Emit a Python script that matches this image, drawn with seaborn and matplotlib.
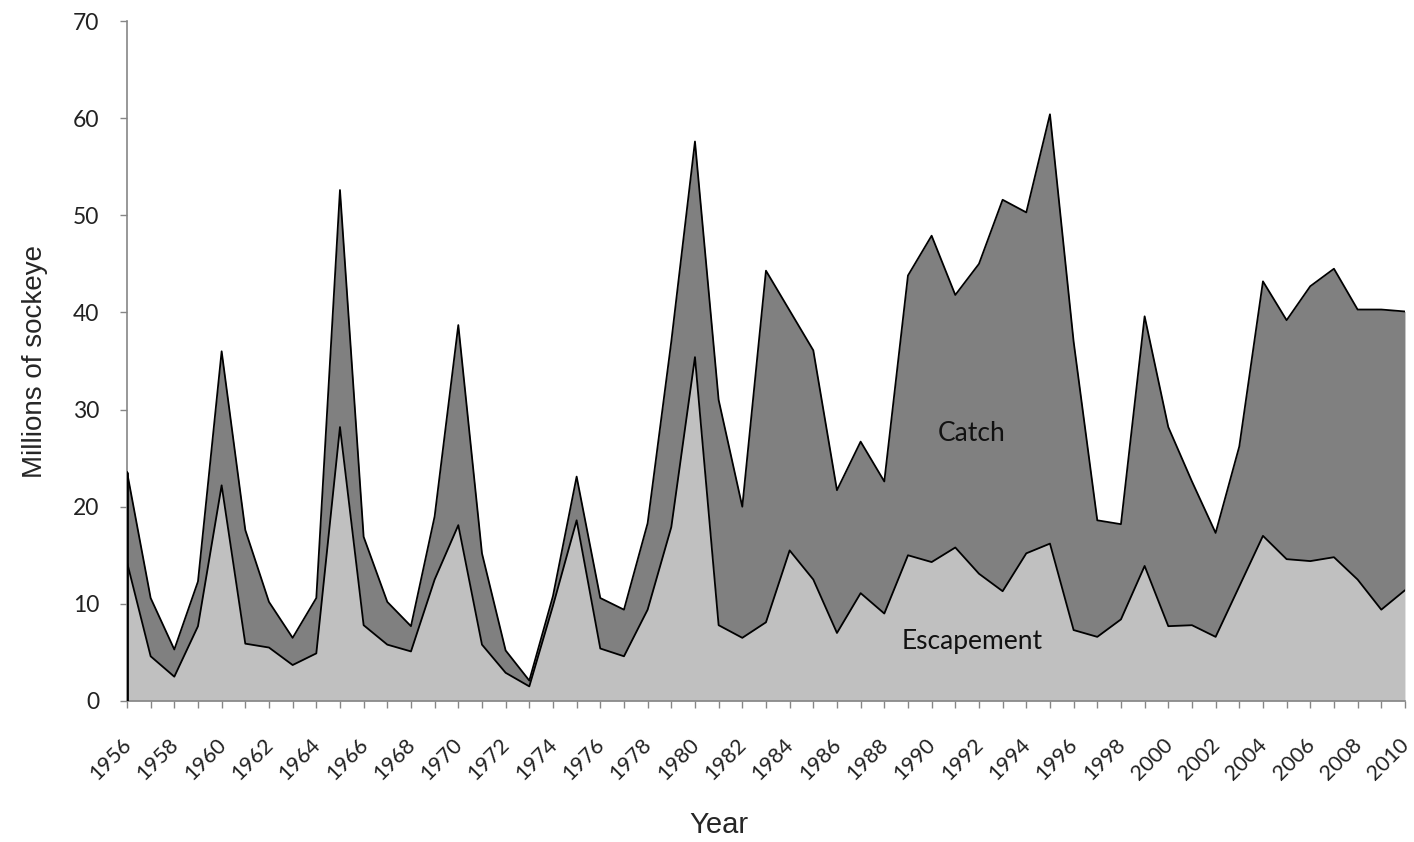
import numpy as np
import pandas as pd
import matplotlib
matplotlib.use("Agg")
import matplotlib.pyplot as plt
import matplotlib.transforms as mtransforms
import seaborn as sns

# valores (milhões de sockeye)
anos = list(range(1956, 2011))
total = [23.6, 10.6, 5.3, 12.3, 36.0, 17.6, 10.2, 6.5, 10.6, 52.6,
         16.9, 10.2, 7.7, 19.0, 38.7, 15.2, 5.2, 2.1, 10.8, 23.1,
         10.6, 9.4, 18.3, 37.0, 57.6, 31.0, 20.0, 44.3, 40.2, 36.1,
         21.7, 26.7, 22.6, 43.8, 47.9, 41.8, 45.0, 51.6, 50.3, 60.4,
         37.0, 18.6, 18.2, 39.6, 28.2, 22.6, 17.3, 26.2, 43.2, 39.2,
         42.7, 44.5, 40.3, 40.3, 40.1]
escapement = [14.3, 4.6, 2.5, 7.7, 22.2, 5.9, 5.5, 3.7, 4.9, 28.2,
              7.8, 5.8, 5.1, 12.5, 18.1, 5.8, 2.9, 1.5, 9.8, 18.6,
              5.4, 4.6, 9.4, 17.9, 35.4, 7.8, 6.5, 8.1, 15.5, 12.5,
              7.0, 11.1, 9.0, 15.0, 14.3, 15.8, 13.1, 11.3, 15.2, 16.2,
              7.3, 6.6, 8.4, 13.9, 7.7, 7.8, 6.6, 11.8, 17.0, 14.6,
              14.4, 14.8, 12.5, 9.4, 11.4]
rotulos_y = [0, 10, 20, 30, 40, 50, 60, 70]

df = pd.DataFrame({"ano": anos, "total": total, "escapement": escapement})

sns.set_style("white")
plt.rcParams["font.family"] = ["Lato", "DejaVu Sans"]

fig = plt.figure(figsize=(14.14, 8.42), dpi=100)
ax = fig.add_axes([0.0898, 0.1675, 0.9038, 0.8075])

# áreas empilhadas
ax.fill_between(df["ano"], 0, df["escapement"], color="#c0c0c0", lw=0, zorder=1)
ax.fill_between(df["ano"], df["escapement"], df["total"], color="#808080", lw=0, zorder=1)
sns.lineplot(data=df, x="ano", y="total", color="black", lw=1.3, ax=ax, zorder=3)
sns.lineplot(data=df, x="ano", y="escapement", color="black", lw=1.3, ax=ax, zorder=3)
ax.vlines(df["ano"].iloc[0], 0, df["total"].iloc[0], color="black", lw=2, zorder=3)

ax.set_xlim(anos[0], anos[-1])
ax.set_ylim(0, 70)
ax.set_yticks(rotulos_y)
ax.set_yticklabels([str(v) for v in rotulos_y], fontsize=16.5, color="#222222")
ax.set_xticks(anos, minor=True)
ax.set_xticks(anos[::2])
ax.set_xticklabels([str(a) for a in anos[::2]], rotation=45, ha="right",
                   rotation_mode="anchor", fontsize=15.5, color="#222222")

ax.tick_params(axis="both", which="both", direction="out", color="#868686",
               length=5, width=1, left=True, bottom=True)
ax.tick_params(axis="y", pad=15)
ax.tick_params(axis="x", which="major", pad=18)
for lado in ["top", "right"]:
    ax.spines[lado].set_visible(False)
for lado in ["left", "bottom"]:
    ax.spines[lado].set_color("#868686")
    ax.spines[lado].set_linewidth(1.2)

ax.set_xlabel("Year", fontsize=21, family=["Liberation Sans", "DejaVu Sans"])
ax.xaxis.set_label_coords(0.463, -0.162)
ax.set_ylabel("Millions of sockeye", fontsize=20, family=["Liberation Sans", "DejaVu Sans"], labelpad=18)

ax.text(1991.7, 27.5, "Catch", fontsize=19, ha="center", va="center", color="#111111", zorder=4)
ax.text(1991.7, 6.1, "Escapement", fontsize=19, ha="center", va="center", color="#111111", zorder=4)

# desloca um pouco os rótulos do eixo x para não sair da figura
fig.canvas.draw()
deslocamento = mtransforms.ScaledTranslation(-0.06, -0.02, fig.dpi_scale_trans)
for lbl in ax.get_xticklabels():
    lbl.set_transform(lbl.get_transform() + deslocamento)

plt.savefig("out.png", dpi=100)
plt.close()
